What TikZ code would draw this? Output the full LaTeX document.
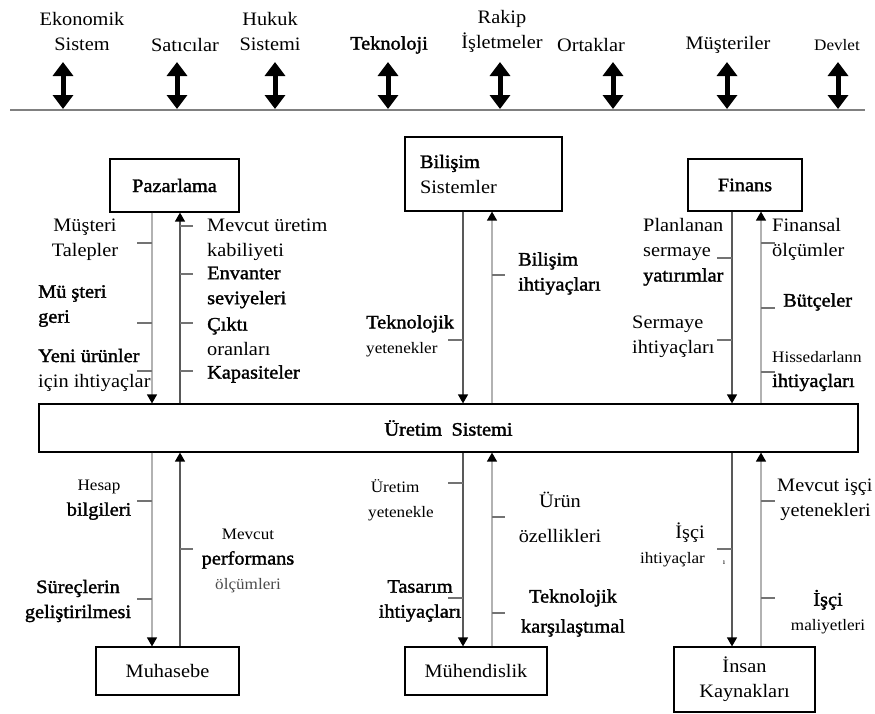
\documentclass[tikz,border=0pt]{standalone}
\usepackage{fontspec}
\setmainfont{Liberation Serif}[FakeStretch=1.07, BoldFont={Liberation Serif}, BoldFeatures={FakeBold=1.6}]
\usetikzlibrary{arrows.meta}

\newcommand{\smtxt}[1]{{\fontsize{16}{25}\selectfont #1}}

\begin{document}
\begin{tikzpicture}[x=1pt, y=-1pt,
    every node/.style={inner sep=0pt, font=\fontsize{19}{25}\selectfont},
    dept/.style={draw, line width=1.2pt, inner sep=0pt},
    twoway/.style={line width=5pt, {Triangle[width=20pt,length=14pt]}-{Triangle[width=20pt,length=14pt]}},
    flowdark/.style={draw=black!65, line width=1.3pt, -{Triangle[width=10pt,length=9pt,color=black]}},
    flowlight/.style={draw=black!30, line width=1.3pt, -{Triangle[width=10pt,length=9pt,color=black]}},
    tick/.style={draw=black!55, line width=1.3pt}
  ]
    \useasboundingbox (0,0) rectangle (875,713);

    % environment
    \node[align=center] (eko) at (82,31) {Ekonomik\\Sistem};
    \node (sat) at (185,45) {Satıcılar};
    \node[align=center] (huk) at (270,31) {Hukuk\\Sistemi};
    \node (tek) at (389,45) {\bfseries Teknoloji};
    \node[align=center] (rak) at (502,31) {Rakip\\İşletmeler};
    \node (ort) at (591,45) {Ortaklar};
    \node (mus) at (728,45) {Müşteriler};
    \node (dev) at (837,45) {\smtxt{Devlet}};

    \coordinate (envL) at (10,110);
    \coordinate (envR) at (865,110);
    \foreach \x in {63,177,275,388,500,613,727,838}
      \draw[twoway] (\x,62) -- (\x,109);
    \draw[line width=2.5pt, draw=black!50] (envL) -- (envR);

    % departments
    \node[dept, minimum width=129pt, minimum height=53pt] (paz) at (174.5,185.5) {\bfseries Pazarlama};
    \node[dept, minimum width=157pt, minimum height=74pt, text width=127pt, align=left] (bil) at (483.5,174) {\textbf{Bilişim}\\Sistemler};
    \node[dept, minimum width=114pt, minimum height=52pt] (fin) at (745,185) {\bfseries Finans};
    \node[dept, minimum width=819pt, minimum height=48pt] (ur) at (448.5,428) {\bfseries Üretim\hspace{0.5em}Sistemi};
    \node[dept, minimum width=143pt, minimum height=48pt] (muh) at (167.5,671) {Muhasebe};
    \node[dept, minimum width=142pt, minimum height=48pt] (mhd) at (476,671) {Mühendislik};
    \node[dept, minimum width=141pt, minimum height=65pt, align=center] (ik) at (744.5,679.5) {İnsan\\Kaynakları};

    \coordinate (xa) at (152,0);
    \coordinate (xb) at (180,0);
    \coordinate (xc) at (463,0);
    \coordinate (xd) at (492,0);
    \coordinate (xe) at (732,0);
    \coordinate (xf) at (761,0);

    % flows
    \draw[flowlight] (paz.south -| xa) -- (ur.north -| xa);
    \draw[flowdark] (ur.north -| xb) -- (paz.south -| xb);
    \draw[flowdark] (bil.south -| xc) -- (ur.north -| xc);
    \draw[flowlight] (ur.north -| xd) -- (bil.south -| xd);
    \draw[flowdark] (fin.south -| xe) -- (ur.north -| xe);
    \draw[flowlight] (ur.north -| xf) -- (fin.south -| xf);

    \draw[flowlight] (ur.south -| xa) -- (muh.north -| xa);
    \draw[flowdark] (muh.north -| xb) -- (ur.south -| xb);
    \draw[flowdark] (ur.south -| xc) -- (mhd.north -| xc);
    \draw[flowlight] (mhd.north -| xd) -- (ur.south -| xd);
    \draw[flowdark] (ur.south -| xe) -- (ik.north -| xe);
    \draw[flowlight] (ik.north -| xf) -- (ur.south -| xf);

    % ticks
    \foreach \y in {243,323,371,501,599} \draw[tick] (137,\y) -- (152,\y);
    \foreach \y in {226,274,323,371,549} \draw[tick] (180,\y) -- (193,\y);
    \foreach \y in {340,483,598} \draw[tick] (448,\y) -- (463,\y);
    \foreach \y in {275,517,613} \draw[tick] (492,\y) -- (505,\y);
    \foreach \y in {258,340,549} \draw[tick] (717,\y) -- (732,\y);
    \foreach \y in {243,308,372,501,598} \draw[tick] (761,\y) -- (775,\y);

    % labels Pazarlama
    \node[align=center] (pz1) at (85,240) {Müşteri\\Talepler};
    \node[anchor=west, align=left] (pz2) at (38,306) {\textbf{Mü şteri}\\\textbf{geri}};
    \node[anchor=west, align=left] (pz3) at (38,370) {\textbf{Yeni ürünler}\\için ihtiyaçlar};
    \node[anchor=west, align=left] (pz4) at (207,239.5) {Mevcut üretim\\kabiliyeti};
    \node[anchor=west, align=left] (pz5) at (207,287.5) {\textbf{Envanter}\\\textbf{seviyeleri}};
    \node[anchor=west, align=left] (pz6) at (207,336.5) {\textbf{Çıktı}\\oranları};
    \node[anchor=west] (pz7) at (207,374) {\bfseries Kapasiteler};

    % labels Bilisim
    \node[anchor=west, align=left] (bs1) at (366,336) {\textbf{Teknolojik}\\\smtxt{yetenekler}};
    \node[anchor=west, align=left] (bs2) at (518,273.5) {\textbf{Bilişim}\\\textbf{ihtiyaçları}};

    % labels Finans
    \node[anchor=west, align=left] (fn1) at (643,252) {Planlanan\\sermaye\\\textbf{yatırımlar}};
    \node[anchor=west, align=left] (fn2) at (632,336.5) {Sermaye\\ihtiyaçları};
    \node[anchor=west, align=left] (fn3) at (772,239.5) {Finansal\\ölçümler};
    \node[anchor=west] (fn4) at (783,302) {\bfseries Bütçeler};
    \node[anchor=west, align=left] (fn5) at (772,371) {\smtxt{Hissedarlann}\\\textbf{ihtiyaçları}};

    % labels Muhasebe
    \node[align=center] (mh1) at (99,500) {\smtxt{Hesap}\\\textbf{bilgileri}};
    \node[align=center] (mh2) at (78,601) {\textbf{Süreçlerin}\\\textbf{geliştirilmesi}};
    \node[align=center] (mh3) at (248,561) {\smtxt{Mevcut}\\\textbf{performans}\\\smtxt{\color{black!70}ölçümleri}};

    % labels Muhendislik
    \node[anchor=west, align=left] (mn1) at (368,500) {\smtxt{\,Üretim}\\\smtxt{yetenekle}};
    \node[align=center] (mn2) at (420,601) {\textbf{Tasarım}\\\textbf{ihtiyaçları}};
    \node[align=center] (mn3) at (560,517) {Ürün\\[10pt]özellikleri};
    \node[align=center] (mn4) at (573,613) {\textbf{Teknolojik}\\[5pt]\textbf{karşılaştımal}};

    % labels Insan Kaynaklari
    \node[anchor=east, align=right] (ik1) at (705,545) {İşçi\\\smtxt{ihtiyaçlar}};
    \node[font=\fontsize{8}{8}\selectfont] (ik2) at (724,563) {ı};
    \node[anchor=west, align=left] (ik3) at (777,500) {Mevcut işçi\\\,yetenekleri};
    \node[align=center] (ik4) at (828,612) {\textbf{İşçi}\\\smtxt{maliyetleri}};

\end{tikzpicture}
\end{document}
